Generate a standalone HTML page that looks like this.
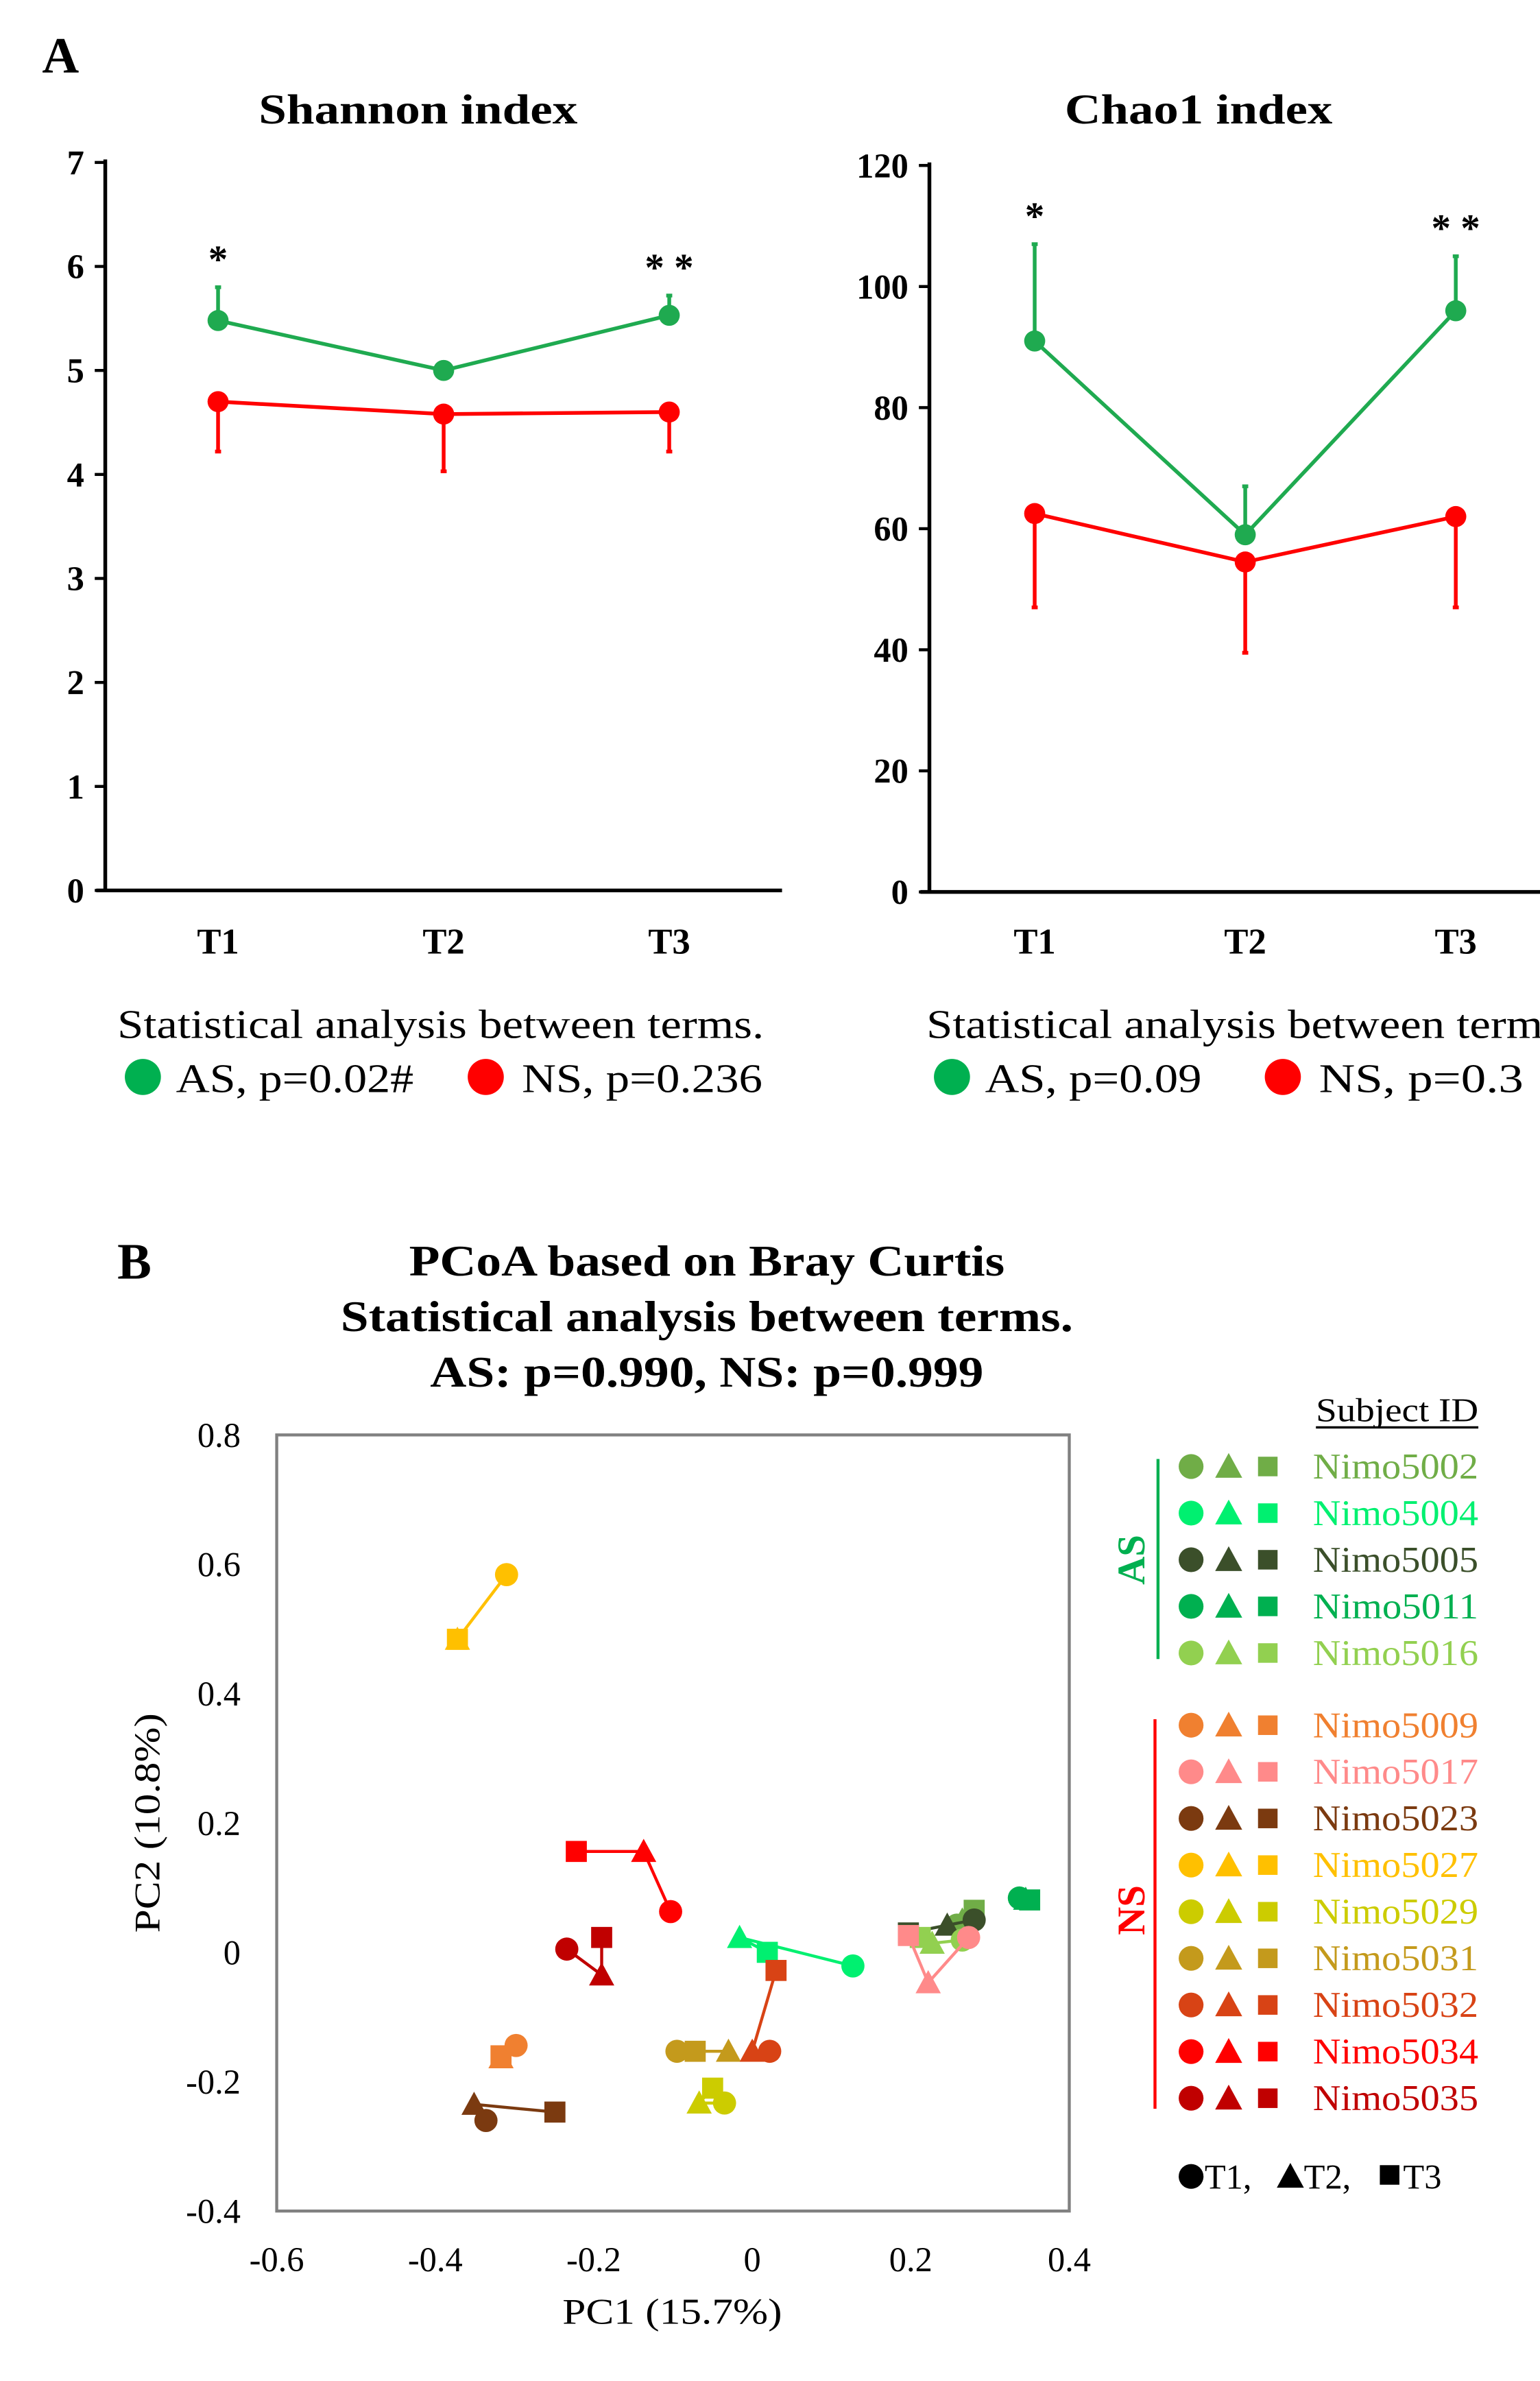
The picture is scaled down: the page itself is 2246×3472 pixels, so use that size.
<!DOCTYPE html>
<html><head><meta charset="utf-8"><style>
html,body{margin:0;padding:0;background:#fff}
svg{display:block;font-family:"Liberation Serif",serif}
</style></head><body>
<svg id="fig" width="2246" height="3472" viewBox="0 0 1024 1583" preserveAspectRatio="none" xmlns="http://www.w3.org/2000/svg"></svg>
<script>
const timeCats = ['T1','T2','T3'];
const shAS = [5.48, 5.0, 5.53];
const shASerr = [0.32, 0, 0.19];
const shNS = [4.7, 4.58, 4.6];
const shNSerr = [0.48, 0.55, 0.38];
const shTicks = [0,1,2,3,4,5,6,7];
const chAS = [91, 59, 96];
const chASerr = [16, 8, 9];
const chNS = [62.5, 54.5, 62];
const chNSerr = [15.5, 15, 15];
const chTicks = [0,20,40,60,80,100,120];
const shStars = ['*','','**'];
const chStars = ['*','','**'];

const subjects = ['Nimo5002','Nimo5004','Nimo5005','Nimo5011','Nimo5016','Nimo5009','Nimo5017','Nimo5023','Nimo5027','Nimo5029','Nimo5031','Nimo5032','Nimo5034','Nimo5035'];
const subjectColors = ['#70ad47','#00f070','#3b4f2a','#00b050','#92d050','#f08030','#ff8a8a','#7b3a10','#ffc000','#cccc00','#c49a1c','#d84315','#ff0000','#c00000'];
const subjectGroup = ['AS','AS','AS','AS','AS','NS','NS','NS','NS','NS','NS','NS','NS','NS'];
const pc1T1 = [0.258,0.127,0.280,0.337,0.265,-0.298,0.273,-0.336,-0.310,-0.035,-0.095,0.022,-0.103,-0.234];
const pc2T1 = [0.042,-0.021,0.050,0.084,0.019,-0.144,0.023,-0.260,0.584,-0.233,-0.153,-0.153,0.063,0.005];
const pc1T2 = [0.265,-0.016,0.246,0.345,0.227,-0.317,0.222,-0.351,-0.372,-0.067,-0.030,0.000,-0.137,-0.190];
const pc2T2 = [0.050,0.023,0.042,0.082,0.014,-0.163,-0.047,-0.235,0.484,-0.233,-0.153,-0.153,0.156,-0.035];
const pc1T3 = [0.280,0.019,0.197,0.350,0.212,-0.317,0.197,-0.249,-0.372,-0.050,-0.072,0.030,-0.222,-0.190];
const pc2T3 = [0.065,0.000,0.030,0.081,0.023,-0.160,0.026,-0.247,0.484,-0.210,-0.153,-0.028,0.156,0.023];
const pcXTicks = [-0.6,-0.4,-0.2,0,0.2,0.4];
const pcYTicks = [-0.4,-0.2,0,0.2,0.4,0.6,0.8];

const NS_='http://www.w3.org/2000/svg';
const svg=document.getElementById('fig');
function mk(tag,attrs,parent,text){const e=document.createElementNS(NS_,tag);for(const k in attrs)e.setAttribute(k,attrs[k]);if(text!==undefined)e.textContent=text;(parent||svg).appendChild(e);return e;}
function fmt(v){return v===0?'0':String(v);}
function TL(n){return {textLength:n,lengthAdjust:'spacingAndGlyphs'};}

let t=mk('text',{x:28,y:48,'font-size':34,'font-weight':'bold'});t.textContent='A';


function linePanel(cfg){
  const g=mk('g',{});
  
  
  const {x0,x1,yB,yT,vmax,xs}=cfg;
  const Y=v=>yB-(v/vmax)*(yB-yT);
  const X=i=>xs[i];
  let e=mk('text',Object.assign({x:cfg.titleX-cfg.titleW/2,y:82,'font-size':28,'font-weight':'bold'},TL(cfg.titleW)),g,cfg.title);
  
  e=mk('line',{x1:x0,y1:yT-2,x2:x0,y2:yB,stroke:'#000','stroke-width':2.5},g);
  
  e=mk('line',{x1:x0-6,y1:yB,x2:x1,y2:yB,stroke:'#000','stroke-width':2.5},g);
  
  cfg.ticks.forEach(v=>{
    mk('line',{x1:x0-7,y1:Y(v),x2:x0,y2:Y(v),stroke:'#000','stroke-width':2},g);
    const tl=mk('text',{x:x0-14,y:Y(v)+8,'text-anchor':'end','font-size':23,'font-weight':'bold'},g,String(v));
    
  });
  timeCats.forEach((c,i)=>{
    const tl=mk('text',{x:X(i),y:634,'text-anchor':'middle','font-size':24,'font-weight':'bold'},g,c);
    
  });
  function series(vals,errs,color,dir,nm){
    const sg=mk('g',{},g);
    
    vals.forEach((v,i)=>{ if(errs[i]>0){const ye=Y(v+dir*errs[i]);
      mk('line',{x1:X(i),y1:Y(v),x2:X(i),y2:ye,stroke:color,'stroke-width':2.5},sg);
      mk('line',{x1:X(i)-2,y1:ye,x2:X(i)+2,y2:ye,stroke:color,'stroke-width':2.5},sg);}});
    mk('polyline',{points:vals.map((v,i)=>X(i)+','+Y(v)).join(' '),fill:'none',stroke:color,'stroke-width':2.5},sg);
    vals.forEach((v,i)=>{const c=mk('circle',{cx:X(i),cy:Y(v),r:7,fill:color},sg);
      });
  }
  series(cfg.ns,cfg.nsErr,'#ff0000',-1,'ns-series');
  series(cfg.as,cfg.asErr,'#1faa50',1,'as-series');
  cfg.stars.forEach((s,i)=>{ if(s){const top=Y(cfg.as[i]+cfg.asErr[i]);
    const st=mk('text',{x:X(i),y:top-10,'text-anchor':'middle','font-size':26,'font-weight':'bold'},g,s.split('').join(' '));
    }});
  e=mk('text',Object.assign({x:cfg.legX,y:690,'font-size':27},TL(430)),g,'Statistical analysis between terms.');
  
  e=mk('circle',{cx:cfg.legX+17,cy:716,r:12,fill:'#00b050'},g);
  
  e=mk('text',Object.assign({x:cfg.legX+39,y:726,'font-size':27},TL(cfg.asW)),g,cfg.asLabel);
  
  e=mk('circle',{cx:cfg.legX+cfg.nsOff,cy:716,r:12,fill:'#ff0000'},g);
  
  e=mk('text',Object.assign({x:cfg.legX+cfg.nsOff+24,y:726,'font-size':27},TL(cfg.nsW)),g,cfg.nsLabel);
  
}
linePanel({name:'shannon-chart',title:'Shannon index',titleX:278,titleW:212,x0:70,x1:520,yB:592,yT:108,vmax:7,xs:[145,295,445],ticks:shTicks,as:shAS,asErr:shASerr,ns:shNS,nsErr:shNSerr,stars:shStars,legX:78,asLabel:'AS, p=0.02#',nsLabel:'NS, p=0.236',asW:158,nsW:160,nsOff:245});
linePanel({name:'chao1-chart',title:'Chao1 index',titleX:797,titleW:178,x0:618,x1:1024,yB:593,yT:110,vmax:120,xs:[688,828,968],ticks:chTicks,as:chAS,asErr:chASerr,ns:chNS,nsErr:chNSerr,stars:chStars,legX:616,asLabel:'AS, p=0.09',nsLabel:'NS, p=0.3',asW:144,nsW:136,nsOff:237});

// Panel B
t=mk('text',{x:78,y:850,'font-size':34,'font-weight':'bold'},svg,'B');

[['PCoA based on Bray Curtis',396],['Statistical analysis between terms.',487],['AS: p=0.990, NS: p=0.999',368]].forEach((s,i)=>{
  const e=mk('text',Object.assign({x:470-s[1]/2,y:848+i*37,'font-size':29,'font-weight':'bold'},TL(s[1])),svg,s[0]);
  
});
const PX0=184,PX1=711,PY0=954,PY1=1470;
const PX=v=>PX0+(v+0.6)/1.0*(PX1-PX0);
const PY=v=>PY0+(0.8-v)/1.2*(PY1-PY0);
const pg=mk('g',{});
let b=mk('rect',{x:PX0,y:PY0,width:PX1-PX0,height:PY1-PY0,fill:'none',stroke:'#808080','stroke-width':2},pg);

pcXTicks.forEach(v=>{const e=mk('text',{x:PX(v),y:1510,'text-anchor':'middle','font-size':23},pg,fmt(v));
  });
pcYTicks.forEach(v=>{const e=mk('text',{x:160,y:PY(v)+8,'text-anchor':'end','font-size':23},pg,fmt(v));
  });
b=mk('text',Object.assign({x:447-73,y:1545,'font-size':24},TL(146)),pg,'PC1 (15.7%)');

b=mk('text',Object.assign({x:-73,y:0,'font-size':24,transform:'translate(106,1212) rotate(-90)'},TL(146)),pg,'PC2 (10.8%)');


function marker(parent,shape,x,y,col,s){
  let e;
  if(shape===0)e=mk('circle',{cx:x,cy:y,r:s*0.55,fill:col},parent);
  else if(shape===1)e=mk('polygon',{points:`${x},${y-s*0.6} ${x+s*0.6},${y+s*0.5} ${x-s*0.6},${y+s*0.5}`,fill:col},parent);
  else e=mk('rect',{x:x-s*0.5,y:y-s*0.5,width:s,height:s,fill:col},parent);
  return e;
}
subjects.forEach((sname,i)=>{
  const sg=mk('g',{},pg);
  
  
  const xs=[pc1T1[i],pc1T2[i],pc1T3[i]], ys=[pc2T1[i],pc2T2[i],pc2T3[i]];
  mk('polyline',{points:xs.map((x,k)=>PX(x)+','+PY(ys[k])).join(' '),fill:'none',stroke:subjectColors[i],'stroke-width':2},sg);
  [2,1,0].forEach(k=>{const m=marker(sg,k,PX(xs[k]),PY(ys[k]),subjectColors[i],14);
    });
});

// Legend
const lg=mk('g',{});
b=mk('text',Object.assign({x:875,y:945,'font-size':22},TL(108)),lg,'Subject ID');

mk('line',{x1:875,y1:949,x2:983,y2:949,stroke:'#000','stroke-width':1.5},lg);
subjects.forEach((sname,i)=>{
  const y = i<5 ? 975+i*31 : 1147+(i-5)*31;
  const eg=mk('g',{},lg);
  
  marker(eg,0,792,y,subjectColors[i],15);marker(eg,1,817,y,subjectColors[i],15);marker(eg,2,843,y,subjectColors[i],13);
  mk('text',Object.assign({x:873,y:y+8,'font-size':24,fill:subjectColors[i]},TL(110)),eg,sname);
});
mk('line',{x1:770,y1:970,x2:770,y2:1103,stroke:'#00b050','stroke-width':2},lg);
b=mk('text',{x:0,y:0,'text-anchor':'middle','font-size':26,'font-weight':'bold',fill:'#00b050',transform:'translate(761,1037) rotate(-90)'},lg,'AS');

mk('line',{x1:768,y1:1143,x2:768,y2:1402,stroke:'#ff0000','stroke-width':2},lg);
b=mk('text',{x:0,y:0,'text-anchor':'middle','font-size':26,'font-weight':'bold',fill:'#ff0000',transform:'translate(761,1270) rotate(-90)'},lg,'NS');

const sk=mk('g',{},lg);
marker(sk,0,792,1447,'#000',15);
mk('text',{x:801,y:1455,'font-size':23},sk,'T1,');
marker(sk,1,858,1447,'#000',15);
mk('text',{x:867,y:1455,'font-size':23},sk,'T2,');
marker(sk,2,924,1446,'#000',13);
mk('text',{x:933,y:1455,'font-size':23},sk,'T3');
</script>
</body></html>
